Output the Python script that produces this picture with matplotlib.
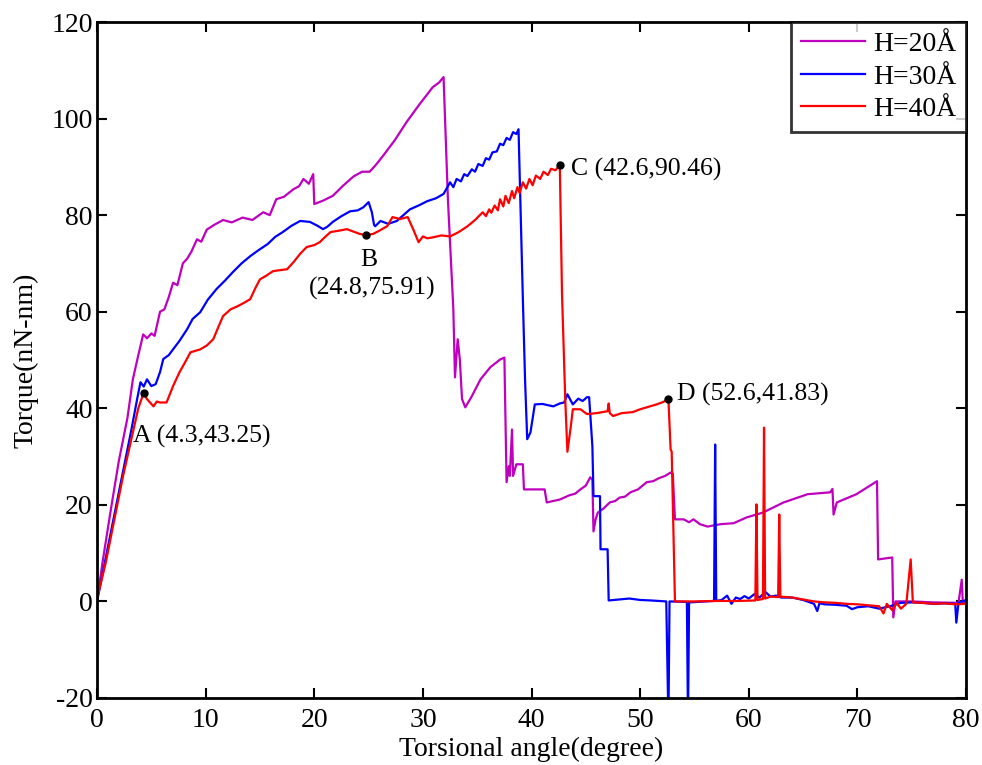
import numpy as np
import matplotlib
matplotlib.use("Agg")
import matplotlib.pyplot as plt

plt.rcParams['font.family'] = ['Liberation Serif', 'DejaVu Serif']
plt.rcParams['axes.unicode_minus'] = False

# torque curves, (angle in degree, torque in nN-nm)
h20 = [(0, 0), (0.5, 8), (1.2, 18), (2.0, 29), (2.8, 38), (3.3, 46), (3.8, 51), (4.25, 55.3),
       (4.6, 54.5), (5.0, 55.5), (5.3, 55), (5.8, 60), (6.2, 60.5), (6.6, 63), (7.0, 66),
       (7.4, 65.5), (7.9, 70), (8.3, 71), (8.7, 72.5), (9.2, 75), (9.6, 74.5), (10.1, 77),
       (10.8, 78), (11.6, 79), (12.4, 78.5), (13.4, 79.5), (14.3, 79), (15.3, 80.6), (15.9, 80),
       (16.5, 83.3), (17.2, 83.8), (18.1, 85.4), (18.6, 86), (19.0, 87.5), (19.5, 86.5),
       (19.9, 88.5), (20.0, 82.3), (20.8, 83), (21.7, 84), (22.6, 86), (23.6, 88), (24.4, 89),
       (25.1, 89), (25.7, 90.5), (26.3, 92.2), (27.4, 95.5), (28.5, 99.3), (29.7, 103),
       (30.9, 106.5), (31.5, 107.5), (31.9, 108.6), (32.3, 83.3), (32.8, 60.5), (32.95, 46.4),
       (33.2, 54.3), (33.4, 50), (33.6, 41.9), (33.9, 40.2), (34.5, 42.5), (35.3, 46),
       (36.2, 48.5), (37.1, 50.1), (37.5, 50.5), (37.7, 24.7), (37.9, 28), (38.0, 26),
       (38.2, 35.6), (38.3, 26), (38.6, 28.4), (39.2, 28.4), (39.3, 23.2), (41.2, 23.2),
       (41.4, 20.5), (42.6, 21.1), (43.5, 22), (44.0, 22.3), (44.5, 23.2), (45.0, 24),
       (45.4, 25.7), (45.6, 25.2), (45.7, 14.5), (45.9, 17), (46.1, 18.4), (46.6, 19.2),
       (47.2, 20.5), (47.7, 20.8), (48.1, 21.5), (48.6, 21.7), (49.1, 22.6), (49.8, 23.2),
       (50.6, 24.7), (51.2, 24.9), (51.7, 25.5), (52.3, 26), (52.8, 26.7), (53.0, 26.5),
       (53.2, 17), (54.0, 17), (54.5, 16.4), (54.9, 17), (55.5, 16), (56.2, 15.5), (57.4, 16),
       (58.6, 16.2), (59.8, 17.4), (61.3, 18.4), (63.2, 20.5), (65.4, 22.2), (67.5, 22.6),
       (67.7, 23.3), (67.8, 18), (68.1, 20.5), (69.9, 22.2), (71.8, 24.9), (71.9, 8.7),
       (73.2, 9.1), (73.3, -3.3), (73.5, 0), (75, 0), (77, -0.2), (79.3, -0.3), (79.6, 4.5),
       (79.7, -0.3), (80, 0)]

h30 = [(0, 0), (0.8, 9), (1.6, 18), (2.4, 27), (3.2, 36), (3.7, 42), (4.0, 45.4), (4.3, 44.5),
       (4.6, 46), (5.0, 44.6), (5.4, 45), (5.8, 47.5), (6.1, 50.2), (6.6, 51), (7.0, 52.2),
       (7.6, 54), (8.3, 56.4), (8.8, 58.5), (9.5, 59.9), (10.2, 62.5), (11.0, 64.7),
       (11.8, 66.5), (12.5, 68.2), (13.3, 70), (14.1, 71.5), (14.9, 72.8), (15.7, 74),
       (16.4, 75.5), (17.1, 76.5), (17.9, 77.8), (18.7, 78.8), (19.6, 78.6), (20.3, 77.8),
       (20.8, 77.1), (21.2, 77.6), (21.7, 78.6), (22.5, 79.8), (23.3, 80.8), (24.0, 81),
       (24.5, 81.6), (25.0, 82.7), (25.3, 80.6), (25.5, 78), (25.6, 77.7), (26.1, 78.8),
       (26.8, 78.2), (27.6, 78.8), (28.2, 80), (28.8, 81.2), (29.6, 82), (30.4, 82.9),
       (31.2, 83.5), (31.9, 84.4), (32.5, 86.8), (32.8, 85.8), (33.1, 87.5), (33.5, 87),
       (33.8, 88.5), (34.1, 88.1), (34.5, 89.5), (34.8, 89), (35.1, 90.6), (35.5, 90.2),
       (35.8, 91.8), (36.1, 91.5), (36.4, 93), (36.8, 93.2), (37.1, 94.8), (37.4, 94.5),
       (37.7, 96), (38.0, 95.6), (38.3, 97.2), (38.6, 96.8), (38.8, 97.8), (39.2, 62.6),
       (39.4, 46), (39.6, 33.6), (39.9, 35), (40.3, 40.8), (41.0, 40.9), (42.0, 40.4),
       (42.6, 41), (43.0, 41.2), (43.3, 42.9), (43.8, 40.8), (44.3, 42), (44.7, 41.5),
       (45.1, 42.3), (45.3, 42.3), (45.6, 32.1), (45.7, 21.8), (46.3, 21.8), (46.35, 10.8),
       (47.0, 10.8), (47.1, 0.2), (48, 0.4), (49, 0.6), (50, 0.3), (51, 0.2), (52.4, 0.0),
       (52.6, -25), (52.7, 0), (54.3, -0.1), (54.4, -25), (54.5, -0.2), (56, 0), (56.8, 0.1),
       (56.9, 32.5), (57.0, 0.1), (57.5, 0.3), (58, 1.2), (58.4, -0.5), (58.8, 0.8),
       (59.2, 0.5), (59.6, 1.1), (60, 0.6), (60.5, 1.5), (61, 0.8), (61.5, 2), (62, 1),
       (62.5, 1.2), (63, 0.8), (64, 0.8), (65, 0.3), (66, -0.5), (66.3, -2), (66.5, -0.4),
       (67, -0.6), (68, -0.7), (69, -0.9), (69.5, -1.6), (70, -1.2), (71, -1.0), (72, -1.5),
       (73, -1.0), (74, -0.3), (75, -0.2), (76, -0.3), (77, -0.5), (78, -0.4), (79, -0.5),
       (79.1, -4.4), (79.3, -0.3), (80, 0.3)]

h40 = [(0, 0.5), (0.8, 8), (1.6, 17), (2.4, 26), (3.2, 34), (3.8, 40), (4.3, 43.25),
       (4.6, 41.9), (5.2, 40.4), (5.5, 41.4), (5.8, 41.2), (6.4, 41.2), (7.0, 44.6),
       (7.6, 47.5), (8.1, 49.5), (8.6, 51.6), (9.5, 52.2), (10.1, 53), (10.7, 54.3),
       (11.2, 57), (11.6, 59.1), (12.3, 60.5), (12.9, 61.1), (13.5, 61.8), (14.1, 62.6),
       (14.6, 65), (15.0, 66.7), (15.6, 67.5), (16.2, 68.4), (16.8, 68.6), (17.5, 68.8),
       (18.1, 70.3), (18.7, 72), (19.3, 73.4), (20.0, 73.8), (20.5, 74.4), (21.0, 75.5),
       (21.5, 76.5), (22.3, 76.8), (23.0, 77.1), (23.6, 76.6), (24.2, 76.1), (24.8, 75.91),
       (25.4, 76.1), (26.0, 76.8), (26.7, 77.7), (27.2, 79.6), (27.9, 79.2), (28.6, 79.6),
       (29.1, 77.1), (29.6, 74.4), (30.0, 75.6), (30.4, 75.2), (30.9, 75.4), (31.7, 75.8),
       (32.5, 75.6), (33.3, 76.5), (34.1, 77.7), (34.8, 79), (35.5, 80.6), (35.8, 79.8),
       (36.1, 81.2), (36.3, 80.5), (36.6, 82), (36.9, 81), (37.1, 83.3), (37.4, 81.8),
       (37.6, 84), (37.9, 82.5), (38.2, 85), (38.4, 83.5), (38.7, 85.8), (38.9, 84.6),
       (39.2, 86.8), (39.5, 85.5), (39.8, 87.5), (40.1, 86.2), (40.4, 88.2), (40.8, 87.5),
       (41.1, 89), (41.5, 88.3), (41.8, 89.6), (42.2, 89.3), (42.6, 90.46), (42.8, 64),
       (43.1, 41.9), (43.3, 31), (43.6, 36), (43.8, 39.8), (44.5, 39.8), (45.1, 38.8),
       (46.0, 39.0), (47.0, 39.4), (47.1, 41), (47.2, 39), (47.5, 38.4), (48.3, 39),
       (49.3, 39.2), (50.0, 39.8), (50.6, 40.2), (51.5, 40.8), (52.0, 41.2), (52.6, 41.83),
       (52.8, 31.5), (52.9, 31), (53.2, 0), (55, 0), (57, 0.1), (59, 0.1), (60.6, 0.2),
       (60.7, 20.1), (60.8, 0.3), (61.3, 0.5), (61.4, 36), (61.5, 0.6), (62.0, 1.0),
       (62.7, 0.9), (62.8, 18), (62.9, 1.0), (64, 0.8), (65, 0.4), (66, 0), (67, -0.2),
       (68, -0.3), (69, -0.5), (70, -0.6), (71, -0.8), (72, -1.0), (72.4, -2.5), (72.7, -0.5),
       (73.2, -1.8), (73.6, -0.3), (74.0, -1.5), (74.5, -0.5), (74.9, 8.7), (75.1, -0.2),
       (76, -0.3), (77, -0.5), (78, -0.4), (79, -0.6), (80, -0.5)]

labels = ['H=20Å', 'H=30Å', 'H=40Å']
colors = ['#BF00BF', '#0000FF', '#FF0000']

# marked points on the H=40 curve
pt_names = ['A', 'B', 'C', 'D']
pt_x = [4.3, 24.8, 42.6, 52.6]
pt_y = [43.25, 75.91, 90.46, 41.83]

fig = plt.figure(figsize=(9.82, 7.65), dpi=100)
ax = fig.add_axes([0.0988, 0.0876, 0.885, 0.8836])

for data, lab, col in zip([h20, h30, h40], labels, colors):
    xy = np.array(data).T
    ax.plot(xy[0], xy[1], color=col, lw=1.6, label=lab)

ax.plot(pt_x, pt_y, 'o', color='black', ms=5, zorder=5)
fs = 18.5
ax.text(pt_x[0] - 1.0, pt_y[0] - 9, 'A (4.3,43.25)', fontsize=fs, va='center', ha='left')
ax.text(pt_x[1] + 0.2, pt_y[1] - 5.3, 'B', fontsize=fs, va='center', ha='center')
ax.text(pt_x[1] + 0.5, pt_y[1] - 11, '(24.8,75.91)', fontsize=fs, va='center', ha='center')
ax.text(pt_x[2] + 1.0, pt_y[2] - 0.9, 'C (42.6,90.46)', fontsize=fs, va='center', ha='left')
ax.text(pt_x[3] + 0.8, pt_y[3] + 1.1, 'D (52.6,41.83)', fontsize=fs, va='center', ha='left')

ax.set_xlim(0, 80)
ax.set_ylim(-20, 120)
ax.set_xticks(np.arange(0, 81, 10))
ax.set_yticks(np.arange(-20, 121, 20))
ax.tick_params(direction='in', length=7, width=1.5, top=True, right=True, labelsize=20)
ax.tick_params(axis='x', pad=7)
ax.tick_params(axis='y', pad=3)
for s in ax.spines.values():
    s.set_linewidth(2)

ax.set_xlabel('Torsional angle(degree)', fontsize=20, labelpad=3)
ax.set_ylabel('Torque(nN-nm)', fontsize=20, labelpad=9)

leg = ax.legend(loc='upper right', fontsize=20, fancybox=False, borderaxespad=0,
                handlelength=2.3, handletextpad=0.3, labelspacing=0.25, borderpad=0.35)
leg.get_frame().set_edgecolor('black')
leg.get_frame().set_linewidth(2)

fig.savefig('out.png', dpi=100)
